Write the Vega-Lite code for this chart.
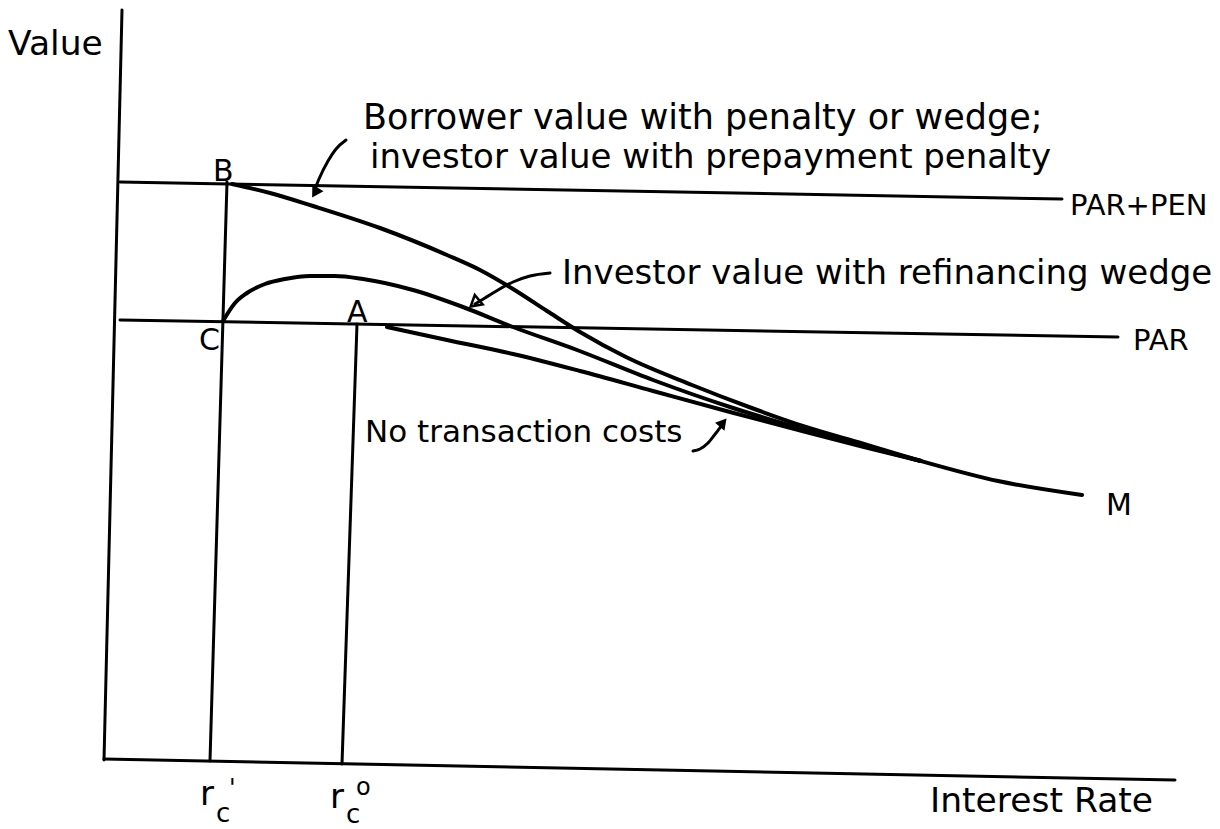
{
  "$schema": "https://vega.github.io/schema/vega-lite/v6.json",
  "width": 1220,
  "height": 829,
  "padding": 0,
  "autosize": {"type": "fit", "contains": "padding"},
  "background": "white",
  "config": {"view": {"stroke": null}},
  "datasets": {
    "segs": [
      {"name": "value axis", "x": 122, "y": 10, "x2": 104, "y2": 760},
      {"name": "rate axis", "x": 104, "y": 759, "x2": 1175, "y2": 780},
      {"name": "PAR+PEN", "x": 120, "y": 182, "x2": 1062, "y2": 199},
      {"name": "PAR", "x": 120, "y": 320, "x2": 1118, "y2": 337},
      {"name": "r_c prime", "x": 227, "y": 182, "x2": 210, "y2": 761},
      {"name": "r_c zero", "x": 357, "y": 324, "x2": 342, "y2": 764}
    ],
    "curves": [
      {"curve": "borrower", "x": 232, "y": 184},
      {"curve": "borrower", "x": 270, "y": 193},
      {"curve": "borrower", "x": 313, "y": 206},
      {"curve": "borrower", "x": 380, "y": 228},
      {"curve": "borrower", "x": 447, "y": 255},
      {"curve": "borrower", "x": 480, "y": 270},
      {"curve": "borrower", "x": 513, "y": 289},
      {"curve": "borrower", "x": 547, "y": 311},
      {"curve": "borrower", "x": 580, "y": 332},
      {"curve": "borrower", "x": 626, "y": 357},
      {"curve": "borrower", "x": 692, "y": 385},
      {"curve": "borrower", "x": 749, "y": 407},
      {"curve": "borrower", "x": 806, "y": 427},
      {"curve": "borrower", "x": 864, "y": 444},
      {"curve": "borrower", "x": 921, "y": 461},
      {"curve": "borrower", "x": 998, "y": 481},
      {"curve": "borrower", "x": 1082, "y": 495},
      {"curve": "investor", "x": 223, "y": 321},
      {"curve": "investor", "x": 235, "y": 303},
      {"curve": "investor", "x": 247, "y": 293},
      {"curve": "investor", "x": 265, "y": 284},
      {"curve": "investor", "x": 285, "y": 279},
      {"curve": "investor", "x": 310, "y": 276},
      {"curve": "investor", "x": 335, "y": 276},
      {"curve": "investor", "x": 363, "y": 279},
      {"curve": "investor", "x": 413, "y": 290},
      {"curve": "investor", "x": 463, "y": 307},
      {"curve": "investor", "x": 513, "y": 327},
      {"curve": "investor", "x": 577, "y": 350},
      {"curve": "investor", "x": 653, "y": 380},
      {"curve": "investor", "x": 730, "y": 407},
      {"curve": "investor", "x": 806, "y": 430},
      {"curve": "investor", "x": 864, "y": 446},
      {"curve": "investor", "x": 921, "y": 461},
      {"curve": "no costs", "x": 387, "y": 327},
      {"curve": "no costs", "x": 447, "y": 340},
      {"curve": "no costs", "x": 513, "y": 354},
      {"curve": "no costs", "x": 580, "y": 371},
      {"curve": "no costs", "x": 653, "y": 391},
      {"curve": "no costs", "x": 730, "y": 412},
      {"curve": "no costs", "x": 806, "y": 432},
      {"curve": "no costs", "x": 864, "y": 447},
      {"curve": "no costs", "x": 921, "y": 461}
    ],
    "arrows": [
      {"arrow": "a1", "x": 346, "y": 140},
      {"arrow": "a1", "x": 336, "y": 149},
      {"arrow": "a1", "x": 328, "y": 161},
      {"arrow": "a1", "x": 319, "y": 179},
      {"arrow": "a1", "x": 315, "y": 189},
      {"arrow": "a2", "x": 550, "y": 273},
      {"arrow": "a2", "x": 530, "y": 276},
      {"arrow": "a2", "x": 513, "y": 282},
      {"arrow": "a2", "x": 498, "y": 290},
      {"arrow": "a2", "x": 485, "y": 298},
      {"arrow": "a2", "x": 475, "y": 304},
      {"arrow": "a3", "x": 693, "y": 451},
      {"arrow": "a3", "x": 700, "y": 449},
      {"arrow": "a3", "x": 708, "y": 443},
      {"arrow": "a3", "x": 716, "y": 433},
      {"arrow": "a3", "x": 722, "y": 425}
    ],
    "heads": [
      {"arrow": "a1", "x": 316, "y": 191},
      {"arrow": "a2", "x": 476, "y": 302},
      {"arrow": "a3", "x": 722, "y": 424}
    ],
    "labels": [
      {"kind": "title1", "label": "Borrower value with penalty or wedge;", "x": 363, "y": 129},
      {"kind": "title2", "label": "investor value with prepayment penalty", "x": 370, "y": 168},
      {"kind": "inv", "label": "Investor value with refinancing wedge", "x": 562, "y": 284},
      {"kind": "notc", "label": "No transaction costs", "x": 365, "y": 442},
      {"kind": "axislab", "label": "Value", "x": 8, "y": 55},
      {"kind": "axislab", "label": "Interest Rate", "x": 930, "y": 812},
      {"kind": "lvl", "label": "PAR+PEN", "x": 1070, "y": 215},
      {"kind": "lvl", "label": "PAR", "x": 1133, "y": 350},
      {"kind": "pt", "label": "B", "x": 213, "y": 181},
      {"kind": "pt", "label": "C", "x": 199, "y": 350},
      {"kind": "pt", "label": "A", "x": 347, "y": 322},
      {"kind": "pt", "label": "M", "x": 1106, "y": 515},
      {"kind": "r", "label": "r", "x": 200, "y": 805},
      {"kind": "r", "label": "r", "x": 330, "y": 808},
      {"kind": "sub", "label": "c", "x": 216, "y": 822},
      {"kind": "sub", "label": "c", "x": 346, "y": 823},
      {"kind": "sup", "label": "'", "x": 229, "y": 796},
      {"kind": "sup", "label": "o", "x": 356, "y": 795}
    ]
  },
  "encoding": {
    "x": {"field": "x", "type": "quantitative", "scale": {"domain": [0, 1220], "nice": false, "zero": false}, "axis": null},
    "y": {"field": "y", "type": "quantitative", "scale": {"domain": [0, 829], "reverse": true, "nice": false, "zero": false}, "axis": null}
  },
  "layer": [
    {
      "data": {"name": "segs"},
      "mark": {"type": "rule", "color": "black", "strokeWidth": 3, "strokeCap": "round"},
      "encoding": {"x2": {"field": "x2"}, "y2": {"field": "y2"}}
    },
    {
      "data": {"name": "curves"},
      "mark": {"type": "line", "color": "black", "strokeWidth": 4, "interpolate": "monotone", "strokeCap": "round"},
      "encoding": {"detail": {"field": "curve"}}
    },
    {
      "data": {"name": "arrows"},
      "mark": {"type": "line", "color": "black", "strokeWidth": 3, "interpolate": "monotone", "strokeCap": "round"},
      "encoding": {"detail": {"field": "arrow"}}
    },
    {
      "data": {"name": "heads"},
      "transform": [{"filter": "datum.arrow == 'a1'"}],
      "mark": {"type": "point", "shape": "triangle", "filled": true, "color": "black", "size": 170, "angle": 211, "opacity": 1}
    },
    {
      "data": {"name": "heads"},
      "transform": [{"filter": "datum.arrow == 'a2'"}],
      "mark": {"type": "point", "shape": "triangle", "filled": false, "color": "black", "strokeWidth": 2.5, "size": 150, "angle": 230, "opacity": 1}
    },
    {
      "data": {"name": "heads"},
      "transform": [{"filter": "datum.arrow == 'a3'"}],
      "mark": {"type": "point", "shape": "triangle", "filled": true, "color": "black", "size": 150, "angle": 40, "opacity": 1}
    },
    {
      "data": {"name": "labels"},
      "transform": [{"filter": "datum.kind == 'title1'"}],
      "mark": {"type": "text", "font": "DejaVu Sans", "fontSize": 35, "align": "left", "baseline": "alphabetic", "color": "black"},
      "encoding": {"text": {"field": "label"}}
    },
    {
      "data": {"name": "labels"},
      "transform": [{"filter": "datum.kind == 'title2'"}],
      "mark": {"type": "text", "font": "DejaVu Sans", "fontSize": 34, "align": "left", "baseline": "alphabetic", "color": "black"},
      "encoding": {"text": {"field": "label"}}
    },
    {
      "data": {"name": "labels"},
      "transform": [{"filter": "datum.kind == 'inv'"}],
      "mark": {"type": "text", "font": "DejaVu Sans", "fontSize": 34, "align": "left", "baseline": "alphabetic", "color": "black"},
      "encoding": {"text": {"field": "label"}}
    },
    {
      "data": {"name": "labels"},
      "transform": [{"filter": "datum.kind == 'notc'"}],
      "mark": {"type": "text", "font": "DejaVu Sans", "fontSize": 31, "align": "left", "baseline": "alphabetic", "color": "black"},
      "encoding": {"text": {"field": "label"}}
    },
    {
      "data": {"name": "labels"},
      "transform": [{"filter": "datum.kind == 'axislab'"}],
      "mark": {"type": "text", "font": "DejaVu Sans", "fontSize": 34.5, "align": "left", "baseline": "alphabetic", "color": "black"},
      "encoding": {"text": {"field": "label"}}
    },
    {
      "data": {"name": "labels"},
      "transform": [{"filter": "datum.kind == 'lvl'"}],
      "mark": {"type": "text", "font": "DejaVu Sans", "fontSize": 29, "align": "left", "baseline": "alphabetic", "color": "black"},
      "encoding": {"text": {"field": "label"}}
    },
    {
      "data": {"name": "labels"},
      "transform": [{"filter": "datum.kind == 'pt'"}],
      "mark": {"type": "text", "font": "DejaVu Sans", "fontSize": 30, "align": "left", "baseline": "alphabetic", "color": "black"},
      "encoding": {"text": {"field": "label"}}
    },
    {
      "data": {"name": "labels"},
      "transform": [{"filter": "datum.kind == 'r'"}],
      "mark": {"type": "text", "font": "DejaVu Sans", "fontSize": 34, "align": "left", "baseline": "alphabetic", "color": "black"},
      "encoding": {"text": {"field": "label"}}
    },
    {
      "data": {"name": "labels"},
      "transform": [{"filter": "datum.kind == 'sub'"}],
      "mark": {"type": "text", "font": "DejaVu Sans", "fontSize": 26, "align": "left", "baseline": "alphabetic", "color": "black"},
      "encoding": {"text": {"field": "label"}}
    },
    {
      "data": {"name": "labels"},
      "transform": [{"filter": "datum.kind == 'sup'"}],
      "mark": {"type": "text", "font": "DejaVu Sans", "fontSize": 24, "align": "left", "baseline": "alphabetic", "color": "black"},
      "encoding": {"text": {"field": "label"}}
    }
  ]
}
